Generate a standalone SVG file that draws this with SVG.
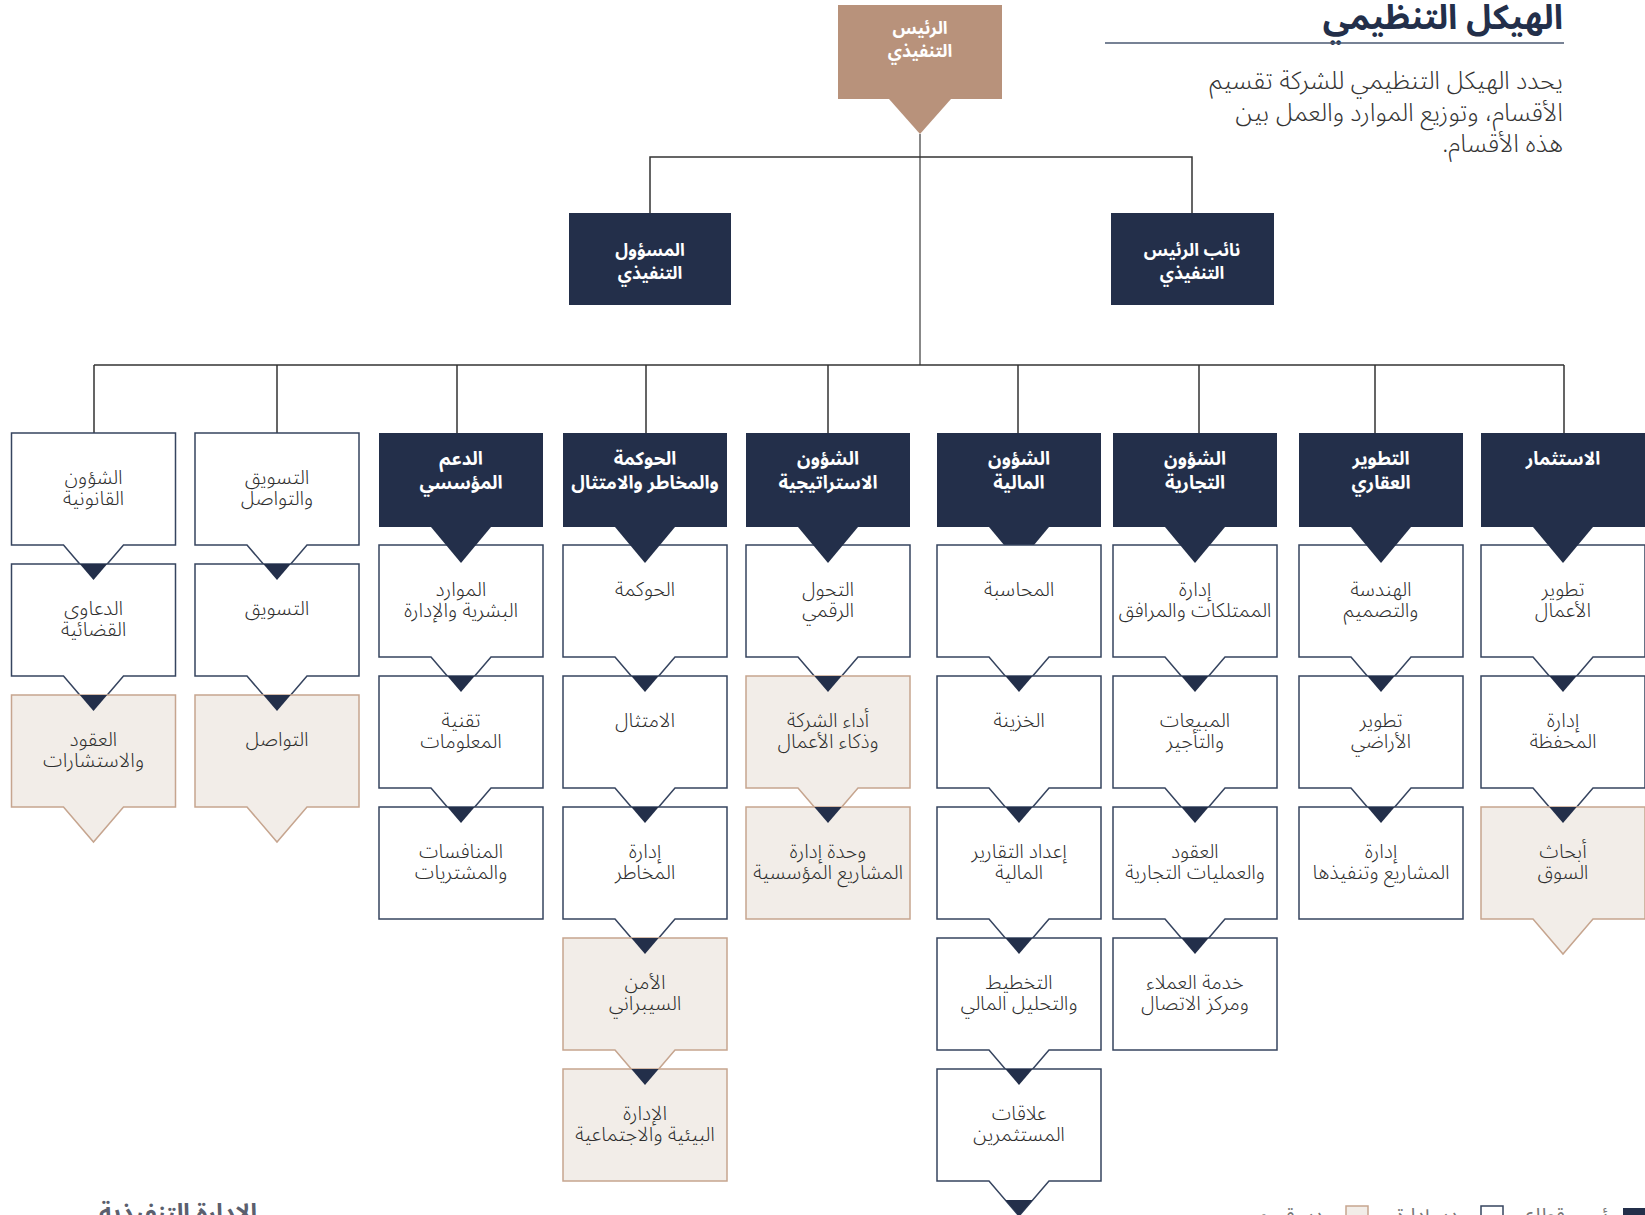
<svg xmlns="http://www.w3.org/2000/svg" xmlns:xlink="http://www.w3.org/1999/xlink" width="1645" height="1215" viewBox="0 0 1645 1215">
<style>
text{font-family:"Noto Sans Arabic","Noto Sans","DejaVu Sans",sans-serif;direction:rtl}
.w{fill:#fff;stroke:#36445f;stroke-width:1.5}
.b{fill:#f2ede8;stroke:#c6a58f;stroke-width:1.5}
.h{fill:#232f4a}
.d{fill:#232f4a}
.lbl{font-size:20px;font-weight:300;fill:#2d2d2d;text-anchor:middle}
.hl{font-size:18.5px;font-weight:700;fill:#fff;text-anchor:middle}
.hl2{font-size:17.5px;font-weight:700;fill:#fff;text-anchor:middle}
.con{fill:none;stroke:#333;stroke-width:1.5}
.leg{font-size:20px;fill:#777}
.para{font-size:25px;font-weight:300;fill:#333;text-anchor:start}
</style>
<defs>
<path id="pent" d="M0,0 H164 V112 H112 L82,147 L52,112 H0 Z"/>
<rect id="box" width="164" height="112"/>
<rect id="hbox" width="164" height="94"/>
<path id="tri" d="M-13.7,0 H13.7 L0,16 Z"/>
<path id="htri" d="M-30,0 H30 L0,36 Z"/>
</defs>
<rect width="1645" height="1215" fill="#fff"/>

<g id="title">
<text x="1563" y="29" style="font-size:34px;font-weight:700;fill:#232f4a;text-anchor:start">الهيكل التنظيمي</text>
<line x1="1105" y1="43" x2="1564" y2="43" stroke="#4a5872" stroke-width="1.5"/>
<text class="para" x="1563" y="89">يحدد الهيكل التنظيمي للشركة تقسيم</text>
<text class="para" x="1563" y="121">الأقسام، وتوزيع الموارد والعمل بين</text>
<text class="para" x="1563" y="152">هذه الأقسام.</text>
</g>

<g id="connectors">
<line x1="920" y1="134" x2="920" y2="365" stroke="#888" stroke-width="2"/>
<polyline class="con" points="650,213 650,157 1192,157 1192,213"/>
<line class="con" x1="94" y1="365" x2="1564" y2="365" stroke-width="2"/>
<path class="con" d="M94,365V433 M277,365V433 M457,365V433 M646,365V433 M828,365V433 M1018,365V433 M1199,365V433 M1375,365V433 M1564,365V433"/>
</g>

<g id="ceo">
<rect x="838" y="5" width="164" height="94" fill="#b8927b"/>
<path d="M889,99 H951 L920,134 Z" fill="#b8927b"/>
<text class="hl2" x="920" y="34">الرئيس</text>
<text class="hl2" x="920" y="57">التنفيذي</text>
</g>
<g id="coo">
<rect x="569" y="213" width="162" height="92" fill="#232f4a"/>
<text class="hl2" x="650" y="256">المسؤول</text>
<text class="hl2" x="650" y="279">التنفيذي</text>
</g>
<g id="vp">
<rect x="1111" y="213" width="163" height="92" fill="#232f4a"/>
<text class="hl2" x="1192" y="256">نائب الرئيس</text>
<text class="hl2" x="1192" y="279">التنفيذي</text>
</g>

<!-- Column 1 -->
<g id="legal">
<use href="#pent" class="w" x="11.5" y="433"/>
<text class="lbl" x="93.5" y="484">الشؤون</text><text class="lbl" x="93.5" y="505">القانونية</text>
</g>
<g id="litigation">
<use href="#pent" class="w" x="11.5" y="564"/>
<use href="#tri" class="d" x="93.5" y="564"/>
<text class="lbl" x="93.5" y="615">الدعاوى</text><text class="lbl" x="93.5" y="636">القضائية</text>
</g>
<g id="contracts">
<use href="#pent" class="b" x="11.5" y="695"/>
<use href="#tri" class="d" x="93.5" y="695"/>
<text class="lbl" x="93.5" y="746">العقود</text><text class="lbl" x="93.5" y="767">والاستشارات</text>
</g>

<!-- Column 2 -->
<g id="marketing-comm">
<use href="#pent" class="w" x="195" y="433"/>
<text class="lbl" x="277" y="484">التسويق</text><text class="lbl" x="277" y="505">والتواصل</text>
</g>
<g id="marketing">
<use href="#pent" class="w" x="195" y="564"/>
<use href="#tri" class="d" x="277" y="564"/>
<text class="lbl" x="277" y="615">التسويق</text>
</g>
<g id="communication">
<use href="#pent" class="b" x="195" y="695"/>
<use href="#tri" class="d" x="277" y="695"/>
<text class="lbl" x="277" y="746">التواصل</text>
</g>

<!-- Column 3 -->
<g id="corp-support">
<use href="#hbox" class="h" x="379" y="433"/>
<text class="hl" x="461" y="465">الدعم</text><text class="hl" x="461" y="489">المؤسسي</text>
</g>
<g id="hr">
<use href="#pent" class="w" x="379" y="545"/>
<use href="#htri" class="d" x="461" y="527"/>
<text class="lbl" x="461" y="596">الموارد</text><text class="lbl" x="461" y="617">البشرية والإدارة</text>
</g>
<g id="it">
<use href="#pent" class="w" x="379" y="676"/>
<use href="#tri" class="d" x="461" y="676"/>
<text class="lbl" x="461" y="727">تقنية</text><text class="lbl" x="461" y="748">المعلومات</text>
</g>
<g id="procurement">
<use href="#box" class="w" x="379" y="807"/>
<use href="#tri" class="d" x="461" y="807"/>
<text class="lbl" x="461" y="858">المنافسات</text><text class="lbl" x="461" y="879">والمشتريات</text>
</g>

<!-- Column 4 -->
<g id="grc">
<use href="#hbox" class="h" x="563" y="433"/>
<text class="hl" x="645" y="465">الحوكمة</text><text class="hl" x="645" y="489">والمخاطر والامتثال</text>
</g>
<g id="governance">
<use href="#pent" class="w" x="563" y="545"/>
<use href="#htri" class="d" x="645" y="527"/>
<text class="lbl" x="645" y="596">الحوكمة</text>
</g>
<g id="compliance">
<use href="#pent" class="w" x="563" y="676"/>
<use href="#tri" class="d" x="645" y="676"/>
<text class="lbl" x="645" y="727">الامتثال</text>
</g>
<g id="risk">
<use href="#pent" class="w" x="563" y="807"/>
<use href="#tri" class="d" x="645" y="807"/>
<text class="lbl" x="645" y="858">إدارة</text><text class="lbl" x="645" y="879">المخاطر</text>
</g>
<g id="cyber">
<use href="#pent" class="b" x="563" y="938"/>
<use href="#tri" class="d" x="645" y="938"/>
<text class="lbl" x="645" y="989">الأمن</text><text class="lbl" x="645" y="1010">السيبراني</text>
</g>
<g id="esg">
<use href="#box" class="b" x="563" y="1069"/>
<use href="#tri" class="d" x="645" y="1069"/>
<text class="lbl" x="645" y="1120">الإدارة</text><text class="lbl" x="645" y="1141">البيئية والاجتماعية</text>
</g>

<!-- Column 5 -->
<g id="strategy">
<use href="#hbox" class="h" x="746" y="433"/>
<text class="hl" x="828" y="465">الشؤون</text><text class="hl" x="828" y="489">الاستراتيجية</text>
</g>
<g id="digital">
<use href="#pent" class="w" x="746" y="545"/>
<use href="#htri" class="d" x="828" y="527"/>
<text class="lbl" x="828" y="596">التحول</text><text class="lbl" x="828" y="617">الرقمي</text>
</g>
<g id="performance">
<use href="#pent" class="b" x="746" y="676"/>
<use href="#tri" class="d" x="828" y="676"/>
<text class="lbl" x="828" y="727">أداء الشركة</text><text class="lbl" x="828" y="748">وذكاء الأعمال</text>
</g>
<g id="epmo">
<use href="#box" class="b" x="746" y="807"/>
<use href="#tri" class="d" x="828" y="807"/>
<text class="lbl" x="828" y="858">وحدة إدارة</text><text class="lbl" x="828" y="879">المشاريع المؤسسية</text>
</g>

<!-- Column 6 -->
<g id="finance">
<use href="#hbox" class="h" x="937" y="433"/>
<use href="#htri" class="d" x="1019" y="527"/>
<text class="hl" x="1019" y="465">الشؤون</text><text class="hl" x="1019" y="489">المالية</text>
</g>
<g id="accounting">
<use href="#pent" class="w" x="937" y="545"/>
<text class="lbl" x="1019" y="596">المحاسبة</text>
</g>
<g id="treasury">
<use href="#pent" class="w" x="937" y="676"/>
<use href="#tri" class="d" x="1019" y="676"/>
<text class="lbl" x="1019" y="727">الخزينة</text>
</g>
<g id="reporting">
<use href="#pent" class="w" x="937" y="807"/>
<use href="#tri" class="d" x="1019" y="807"/>
<text class="lbl" x="1019" y="858">إعداد التقارير</text><text class="lbl" x="1019" y="879">المالية</text>
</g>
<g id="fpa">
<use href="#pent" class="w" x="937" y="938"/>
<use href="#tri" class="d" x="1019" y="938"/>
<text class="lbl" x="1019" y="989">التخطيط</text><text class="lbl" x="1019" y="1010">والتحليل المالي</text>
</g>
<g id="ir">
<use href="#pent" class="w" x="937" y="1069"/>
<use href="#tri" class="d" x="1019" y="1069"/>
<use href="#tri" class="d" x="1019" y="1200"/>
<text class="lbl" x="1019" y="1120">علاقات</text><text class="lbl" x="1019" y="1141">المستثمرين</text>
</g>

<!-- Column 7 -->
<g id="commercial">
<use href="#hbox" class="h" x="1113" y="433"/>
<text class="hl" x="1195" y="465">الشؤون</text><text class="hl" x="1195" y="489">التجارية</text>
</g>
<g id="property">
<use href="#pent" class="w" x="1113" y="545"/>
<use href="#htri" class="d" x="1195" y="527"/>
<text class="lbl" x="1195" y="596">إدارة</text><text class="lbl" x="1195" y="617">الممتلكات والمرافق</text>
</g>
<g id="sales">
<use href="#pent" class="w" x="1113" y="676"/>
<use href="#tri" class="d" x="1195" y="676"/>
<text class="lbl" x="1195" y="727">المبيعات</text><text class="lbl" x="1195" y="748">والتأجير</text>
</g>
<g id="contracts-ops">
<use href="#pent" class="w" x="1113" y="807"/>
<use href="#tri" class="d" x="1195" y="807"/>
<text class="lbl" x="1195" y="858">العقود</text><text class="lbl" x="1195" y="879">والعمليات التجارية</text>
</g>
<g id="customer-service">
<use href="#box" class="w" x="1113" y="938"/>
<use href="#tri" class="d" x="1195" y="938"/>
<text class="lbl" x="1195" y="989">خدمة العملاء</text><text class="lbl" x="1195" y="1010">ومركز الاتصال</text>
</g>

<!-- Column 8 -->
<g id="real-estate">
<use href="#hbox" class="h" x="1299" y="433"/>
<text class="hl" x="1381" y="465">التطوير</text><text class="hl" x="1381" y="489">العقاري</text>
</g>
<g id="engineering">
<use href="#pent" class="w" x="1299" y="545"/>
<use href="#htri" class="d" x="1381" y="527"/>
<text class="lbl" x="1381" y="596">الهندسة</text><text class="lbl" x="1381" y="617">والتصميم</text>
</g>
<g id="land">
<use href="#pent" class="w" x="1299" y="676"/>
<use href="#tri" class="d" x="1381" y="676"/>
<text class="lbl" x="1381" y="727">تطوير</text><text class="lbl" x="1381" y="748">الأراضي</text>
</g>
<g id="projects">
<use href="#box" class="w" x="1299" y="807"/>
<use href="#tri" class="d" x="1381" y="807"/>
<text class="lbl" x="1381" y="858">إدارة</text><text class="lbl" x="1381" y="879">المشاريع وتنفيذها</text>
</g>

<!-- Column 9 -->
<g id="investment">
<use href="#hbox" class="h" x="1481" y="433"/>
<text class="hl" x="1563" y="465">الاستثمار</text>
</g>
<g id="bizdev">
<use href="#pent" class="w" x="1481" y="545"/>
<use href="#htri" class="d" x="1563" y="527"/>
<text class="lbl" x="1563" y="596">تطوير</text><text class="lbl" x="1563" y="617">الأعمال</text>
</g>
<g id="portfolio">
<use href="#pent" class="w" x="1481" y="676"/>
<use href="#tri" class="d" x="1563" y="676"/>
<text class="lbl" x="1563" y="727">إدارة</text><text class="lbl" x="1563" y="748">المحفظة</text>
</g>
<g id="market-research">
<use href="#pent" class="b" x="1481" y="807"/>
<use href="#tri" class="d" x="1563" y="807"/>
<text class="lbl" x="1563" y="858">أبحاث</text><text class="lbl" x="1563" y="879">السوق</text>
</g>

<g id="footer">
<text x="257" y="1221" style="font-size:24px;font-weight:700;fill:#5b5f6e;text-anchor:start">الإدارة التنفيذية</text>
</g>
<g id="legend">
<rect x="1623" y="1208" width="22" height="22" fill="#232f4a"/>
<text class="leg" x="1615" y="1222">رئيس قطاع</text>
<rect x="1481" y="1206" width="22" height="22" fill="#fff" stroke="#36445f" stroke-width="1.5"/>
<text class="leg" x="1470" y="1222">مدير إدارة</text>
<rect x="1346" y="1206" width="22" height="22" fill="#f2ede8" stroke="#c6a58f" stroke-width="1.5"/>
<text class="leg" x="1335" y="1222">مدير قسم</text>
</g>
</svg>
